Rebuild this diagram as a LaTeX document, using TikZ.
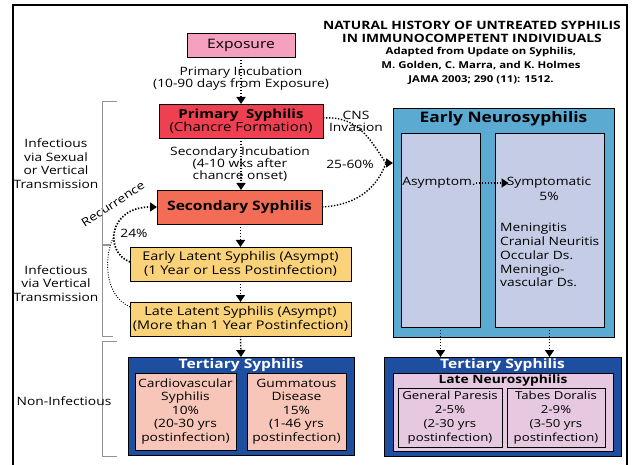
\documentclass[tikz,border=0pt]{standalone}
\usepackage{fontspec}
\setmainfont{Open Sans}[FakeStretch=1.2]
\usetikzlibrary{arrows.meta}
\definecolor{cExpo}{RGB}{244,160,190}
\definecolor{cPrim}{RGB}{238,64,80}
\definecolor{cSec}{RGB}{242,108,86}
\definecolor{cLat}{RGB}{250,210,122}
\definecolor{cTer}{RGB}{30,78,160}
\definecolor{cPink}{RGB}{248,198,184}
\definecolor{cLav}{RGB}{230,200,225}
\definecolor{cEN}{RGB}{90,170,210}
\definecolor{cENin}{RGB}{196,204,230}
\tikzset{
  box/.style={draw=black,line width=0.7pt,align=center,inner sep=0pt,outer sep=0pt},
  txt/.style={align=center,inner sep=0pt,font=\fontsize{11.5}{12}\selectfont},
  flow/.style={line width=1.4pt,dash pattern=on 1.4pt off 1.6pt,-{Triangle[length=7pt,width=9pt]}},
  flowplain/.style={line width=1.4pt,dash pattern=on 1.4pt off 1.6pt},
  thinflow/.style={line width=0.9pt,dash pattern=on 1pt off 1.5pt},
  bracket/.style={draw=gray!85,line width=1pt},
}
\begin{document}
\begin{tikzpicture}[x=1pt,y=-1pt]
\useasboundingbox (0,0) rectangle (632,465);
% frame
\draw[line width=2.5pt] (13,466) -- (13,5) -- (627,5) -- (627,466);
% title
\node[font=\bfseries\fontsize{11.5}{13}\selectfont,align=center,inner sep=0pt] (title) at (472,31.5) {NATURAL HISTORY OF UNTREATED SYPHILIS\\IN IMMUNOCOMPETENT INDIVIDUALS};
\node[font=\bfseries\fontsize{9.5}{14}\selectfont,align=center,inner sep=0pt] (ref) at (481,66) {Adapted from Update on Syphilis,\\M. Golden, C. Marra, and K. Holmes\\JAMA 2003; 290 (11): 1512.};
% main column
\node[box,fill=cExpo,minimum width=108pt,minimum height=24pt,font=\fontsize{13}{14}\selectfont] (expo) at (241,45) {Exposure};
\node[box,fill=cPrim,minimum width=164pt,minimum height=34pt,font=\fontsize{12.5}{13}\selectfont] (prim) at (241,121) {\textbf{Primary\ \ Syphilis}\\(Chancre Formation)};
\node[box,fill=cSec,minimum width=165pt,minimum height=34pt,font=\bfseries\fontsize{13}{14}\selectfont] (sec) at (239.5,207) {Secondary Syphilis};
\node[box,fill=cLat,minimum width=221pt,minimum height=34pt,font=\fontsize{12}{14.5}\selectfont] (early) at (240.5,264) {Early Latent Syphilis (Asympt)\\(1 Year or Less Postinfection)};
\node[box,fill=cLat,minimum width=221pt,minimum height=34pt,font=\fontsize{12}{14.5}\selectfont] (late) at (240.5,319) {Late Latent Syphilis (Asympt)\\(More than 1 Year Postinfection)};
% tertiary left
\node[box,fill=cTer,minimum width=226pt,minimum height=98pt] (tertL) at (241,406) {};
\node[font=\bfseries\fontsize{13}{14}\selectfont,text=white,inner sep=0pt] (tertLt) at (241,365) {Tertiary Syphilis};
\node[box,fill=cPink,minimum width=101pt,minimum height=77pt,font=\fontsize{11.5}{13.5}\selectfont] (cardio) at (185.5,411.5) {Cardiovascular\\Syphilis\\10\%\\(20-30 yrs\\postinfection)};
\node[box,fill=cPink,minimum width=99pt,minimum height=77pt,font=\fontsize{11.5}{13.5}\selectfont] (gumma) at (296.5,411.5) {Gummatous\\Disease\\15\%\\(1-46 yrs\\postinfection)};
% early neurosyphilis
\node[box,fill=cEN,minimum width=221pt,minimum height=229pt] (en) at (503.5,222.5) {};
\node[font=\bfseries\fontsize{14.5}{15}\selectfont,inner sep=0pt] (ent) at (503.5,119) {Early Neurosyphilis};
\node[box,fill=cENin,minimum width=79pt,minimum height=194pt] (enA) at (440.5,230) {};
\node[box,fill=cENin,minimum width=109pt,minimum height=194pt] (enB) at (549.5,230) {};
\node[txt] (asym) at (439,183) {Asymptom.};
\node[txt] (symp) at (549,183) {Symptomatic};
\node[txt] (pct) at (549,196.5) {5\%};
\node[txt,align=left,anchor=north west,font=\fontsize{11.5}{13.8}\selectfont] (list) at (500,223) {Meningitis\\Cranial Neuritis\\Occular Ds.\\Meningio-\\vascular Ds.};
% tertiary right
\node[box,fill=cTer,minimum width=237pt,minimum height=99pt] (tertR) at (502.5,406.5) {};
\node[font=\bfseries\fontsize{13}{14}\selectfont,text=white,inner sep=0pt] (tertRt) at (502.5,365) {Tertiary Syphilis};
\node[box,fill=cLav,minimum width=220pt,minimum height=78pt] (lns) at (503,412) {};
\node[font=\bfseries\fontsize{11.5}{12}\selectfont,inner sep=0pt] (lnst) at (503,381) {Late Neurosyphilis};
\node[box,fill=cLav,minimum width=104pt,minimum height=59pt,font=\fontsize{11}{14}\selectfont] (gp) at (450,417.5) {General Paresis\\2-5\%\\(2-30 yrs\\postinfection)};
\node[box,fill=cLav,minimum width=98pt,minimum height=59pt,font=\fontsize{11}{14}\selectfont] (td) at (556,417.5) {Tabes Doralis\\2-9\%\\(3-50 yrs\\postinfection)};
% main flow arrows
\draw[flow] (expo.south) -- (prim.north);
\draw[flow] (prim.south) -- (prim.south |- sec.north);
\draw[flow] (sec.south -| early.north) -- (early.north);
\draw[flow] (early.south) -- (late.north);
\draw[flow] (late.south) -- (tertL.north);
\node[txt] (pinc) at (241,79) {Primary Incubation\\(10-90 days from Exposure)};
\node[txt] (sinc) at (240,164) {Secondary Incubation\\(4-10 wks after\\chancre onset)};
\draw[flow] (enA.south) -- (enA.south |- tertR.north);
\draw[flow] (enB.south) -- (enB.south |- tertR.north);
\draw[flow,shorten >=-2pt] (asym.east) -- (symp.west);
% CNS invasion
\coordinate (cns) at (386,163);
\draw[flowplain] (prim.east |- 0,118) .. controls (360,115) and (373,145) .. (cns);
\draw[flowplain] (sec.east) .. controls (360,205) and (378,185) .. (cns);
\draw[flow] (cns) -- (cns -| en.west);
\node[txt] (cnsl) at (356,121.5) {CNS\\Invasion};
\node[txt] (pct2) at (350,164) {25-60\%};
% recurrence
\coordinate (merge) at (113,238);
\draw[flow,line width=1.7pt] (early.west |- 0,262) .. controls (104,252) and (108,207) .. (sec.west);
\draw[thinflow] (late.west |- 0,307) .. controls (104,295) and (104,258) .. (merge);
\node[txt,rotate=33] (rec) at (113,204) {Recurrence};
\node[txt] (p24) at (134,233) {24\%};
% brackets
\draw[bracket] (117,102) -- (102,102) -- (102,336) -- (113,336);
\draw[draw=gray!85,line width=2pt] (102,245) -- (110,245);
\draw[bracket] (117,341) -- (102,341) -- (102,456) -- (117,456);
% side labels
\node[txt,font=\fontsize{11.5}{13.5}\selectfont] (lab1) at (56,163.5) {Infectious\\via Sexual\\or Vertical\\Transmission};
\node[txt,font=\fontsize{11.5}{13.5}\selectfont] (lab2) at (56,283.5) {Infectious\\via Vertical\\Transmission};
\node[txt] (lab3) at (64,401) {Non-Infectious};
\end{tikzpicture}
\end{document}
